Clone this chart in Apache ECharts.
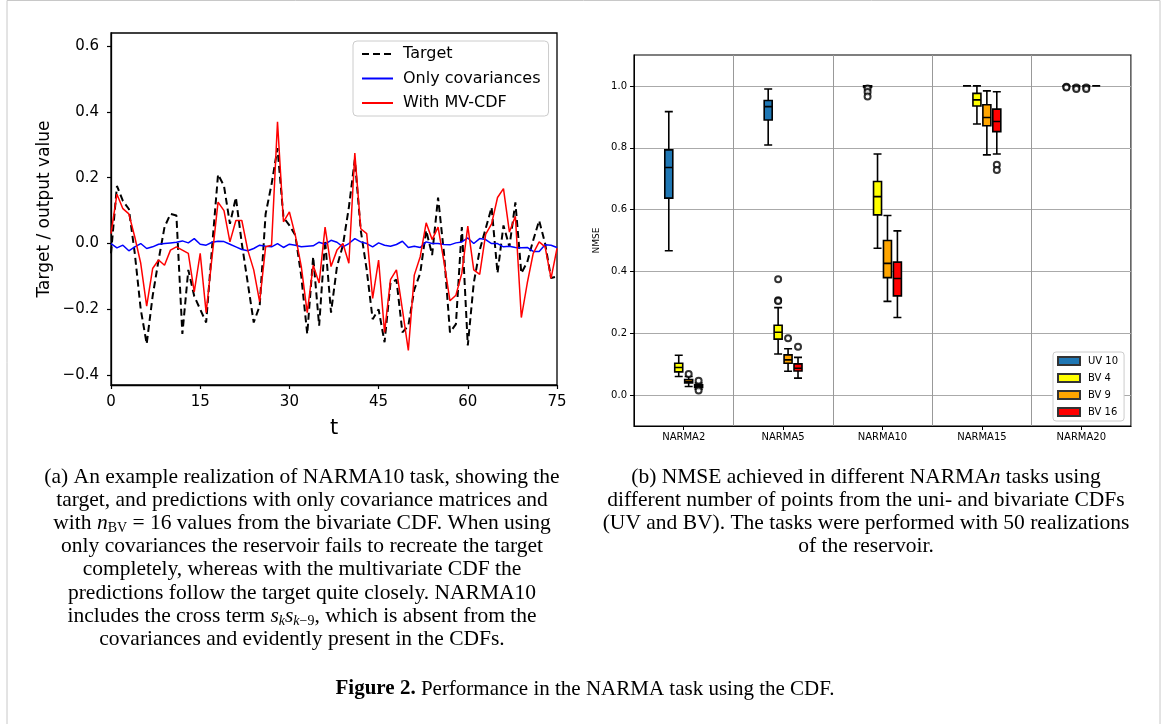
<!DOCTYPE html>
<html>
<head>
<meta charset="utf-8">
<script src="https://cdn.jsdelivr.net/npm/echarts@6/dist/echarts.min.js"></script>
<style>
html, body { margin: 0; background: #fff; }
#chartDom { width: 1170px; height: 724px; }
</style>
</head>
<body>
<div id="chartDom"></div>
<script>
// (a) one NARMA10 realization, t = 0..75
var target = [-0.03, 0.175, 0.13, 0.105, -0.03, -0.20, -0.305, -0.16, -0.05, 0.05,
  0.09, 0.085, -0.275, -0.08, -0.16, -0.20, -0.24, -0.01, 0.21, 0.175,
  0.06, 0.14, 0.0, -0.12, -0.24, -0.19, 0.09, 0.18, 0.29, 0.08,
  0.055, 0.025, -0.10, -0.275, -0.04, -0.25, 0.01, -0.21, -0.07, -0.005,
  0.11, 0.255, 0.04, -0.08, -0.23, -0.20, -0.30, -0.12, -0.11, -0.27,
  -0.25, -0.14, -0.09, 0.04, -0.035, 0.14, -0.03, -0.27, -0.245, 0.05,
  -0.31, -0.12, -0.02, 0.045, 0.11, -0.09, 0.055, -0.01, 0.125, -0.09,
  -0.056, 0.01, 0.07, 0.0, -0.105, -0.10];
var onlyCov = [0.0, -0.013, -0.005, -0.022, -0.01, 0.0, -0.015, -0.01, -0.002, 0.0,
  0.002, 0.004, 0.008, 0.002, 0.015, -0.002, -0.005, 0.004, 0.007, 0.006,
  -0.002, -0.01, -0.018, -0.022, -0.015, -0.005, -0.008, -0.01, 0.0, -0.012,
  -0.002, -0.005, -0.01, -0.008, -0.007, 0.004, -0.002, 0.01, 0.004, -0.01,
  0.0, 0.015, 0.005, 0.0, -0.01, 0.002, -0.005, -0.008, -0.003, 0.007,
  -0.012, -0.008, -0.012, 0.005, 0.0, 0.0, -0.003, -0.004, 0.002, 0.005,
  0.017, 0.0, 0.015, 0.012, 0.0, 0.0, -0.01, -0.008, -0.012, -0.013,
  -0.012, -0.024, -0.024, -0.004, -0.005, -0.012];
var withCdf = [0.03, 0.15, 0.106, 0.09, 0.02, -0.06, -0.19, -0.076, -0.05, -0.066,
  -0.02, -0.01, -0.02, -0.03, -0.147, -0.03, -0.21, -0.04, 0.126, 0.10,
  0.005, 0.07, 0.07, -0.02, -0.08, -0.177, -0.01, -0.005, 0.37, 0.066,
  0.096, 0.025, -0.07, -0.21, -0.066, -0.12, 0.05, -0.07, -0.02, 0.0,
  -0.06, 0.275, 0.045, 0.03, -0.167, -0.05, -0.27, -0.11, -0.08, -0.20,
  -0.325, -0.096, -0.04, 0.063, 0.012, 0.05, -0.056, -0.174, -0.157, -0.09,
  0.053, -0.08, -0.094, 0.028, 0.06, 0.14, 0.167, 0.035, 0.083, -0.225,
  -0.12, -0.03, 0.005, -0.01, -0.106, -0.015];
var leftTicks = [-0.4, -0.2, 0, 0.2, 0.4, 0.6];

// (b) NMSE boxes: [min, Q1, median, Q3, max] for each task
var tasks = ['NARMA2', 'NARMA5', 'NARMA10', 'NARMA15', 'NARMA20'];
var variants = ['UV 10', 'BV 4', 'BV 9', 'BV 16'];
var variantColors = ['#1f77b4', '#ffff00', '#ffa500', '#ff0000'];
var boxUV10 = [[0.467, 0.637, 0.736, 0.793, 0.917], [0.809, 0.89, 0.933, 0.953, 0.99],
  [0.995, 0.997, 0.999, 1.0, 1.0], [1.0, 1.0, 1.0, 1.0, 1.0], [1.0, 1.0, 1.0, 1.0, 1.0]];
var boxBV4 = [[0.06, 0.075, 0.089, 0.103, 0.129], [0.133, 0.181, 0.203, 0.226, 0.283],
  [0.475, 0.583, 0.642, 0.691, 0.78], [0.877, 0.935, 0.955, 0.976, 1.0], [1.0, 1.0, 1.0, 1.0, 1.0]];
var boxBV9 = [[0.028, 0.039, 0.043, 0.05, 0.06], [0.077, 0.103, 0.114, 0.13, 0.15],
  [0.303, 0.38, 0.426, 0.5, 0.581], [0.777, 0.871, 0.898, 0.939, 0.984], [1.0, 1.0, 1.0, 1.0, 1.0]];
var boxBV16 = [[0.019, 0.025, 0.028, 0.033, 0.039], [0.055, 0.078, 0.087, 0.101, 0.122],
  [0.251, 0.321, 0.377, 0.43, 0.531], [0.78, 0.852, 0.885, 0.925, 0.981], [1.0, 1.0, 1.0, 1.0, 1.0]];
var outUV10 = [[], [], [0.992, 0.98, 0.966], [], [0.997, 0.995]];
var outBV4 = [[], [0.375, 0.307, 0.304], [], [], [0.995, 0.99]];
var outBV9 = [[0.068], [0.184], [], [], [0.995, 0.99]];
var outBV16 = [[0.046, 0.015], [0.156], [], [0.745, 0.728], []];
var rightTicks = [0, 0.2, 0.4, 0.6, 0.8, 1.0];

var boxes = [boxUV10, boxBV4, boxBV9, boxBV16];
var outs = [outUV10, outBV4, outBV9, outBV16];
var offsets = [-0.15, -0.05, 0.05, 0.15];

var boxData = [], outData = [];
boxes.forEach(function (b, vi) {
  b.forEach(function (q, ti) {
    boxData.push({ value: [ti + offsets[vi]].concat(q), itemStyle: { color: variantColors[vi] } });
    outs[vi][ti].forEach(function (v) { outData.push([ti + offsets[vi], v]); });
  });
});

function pairs(arr) { return arr.map(function (v, i) { return [i, v]; }); }
function fmt(v) { return (v < 0 ? '\u2212' : '') + Math.abs(v).toFixed(1); }

var FONT = 'DejaVu Sans';
var SERIF = 'Liberation Serif';
var CAP = 21.5;

var capA = [
  '(a) An example realization of NARMA10 task, showing the',
  'target, and predictions with only covariance matrices and',
  'with {i|n}{sub|BV} = 16 values from the bivariate CDF. When using',
  'only covariances the reservoir fails to recreate the target',
  'completely, whereas with the multivariate CDF the',
  'predictions follow the target quite closely. NARMA10',
  'includes the cross term {i|s}{subi|k}{i|s}{subi|k}{sub|\u22129}, which is absent from the',
  'covariances and evidently present in the CDFs.'
];
var capB = [
  '(b) NMSE achieved in different NARMA{i|n} tasks using',
  'different number of points from the uni- and bivariate CDFs',
  '(UV and BV). The tasks were performed with 50 realizations',
  'of the reservoir.'
];
var richCap = {
  i: { fontFamily: SERIF, fontSize: CAP, fontStyle: 'italic', fill: '#000' },
  sub: { fontFamily: SERIF, fontSize: 14, padding: [10, 0, 0, 0], fill: '#000' },
  subi: { fontFamily: SERIF, fontSize: 14, fontStyle: 'italic', padding: [10, 0, 0, 0], fill: '#000' }
};
var graphics = [{
  type: 'rect', silent: true,
  shape: { x: 7, y: 0.5, width: 1153, height: 760 },
  style: { fill: 'none', stroke: '#c8c8c8', lineWidth: 1 }
}];
capA.forEach(function (s, k) {
  graphics.push({ type: 'text', silent: true, style: { text: s, x: 302, y: 477 + k * 23.2,
    align: 'center', verticalAlign: 'middle', fontFamily: SERIF, fontSize: CAP, fill: '#000', rich: richCap } });
});
capB.forEach(function (s, k) {
  graphics.push({ type: 'text', silent: true, style: { text: s, x: 866, y: 477 + k * 23.2,
    align: 'center', verticalAlign: 'middle', fontFamily: SERIF, fontSize: CAP, fill: '#000', rich: richCap } });
});
graphics.push({ type: 'text', silent: true, style: {
  text: '{b|Figure 2.} Performance in the NARMA task using the CDF.', x: 585, y: 689,
  align: 'center', verticalAlign: 'middle', fontFamily: SERIF, fontSize: 21, fill: '#000',
  rich: { b: { fontFamily: SERIF, fontSize: 21, fontWeight: 'bold', fill: '#000' } } } });

var chartDom = document.getElementById('chartDom');
var myChart = echarts.init(chartDom);
var option = {
  animation: false,
  backgroundColor: '#fff',
  grid: [
    { left: 111, top: 33, width: 446, height: 352, show: true, borderColor: '#000', borderWidth: 1.3 },
    { left: 634, top: 55, width: 497, height: 371, show: true, borderColor: '#000', borderWidth: 1.2 }
  ],
  legend: [
    {
      data: ['Target', 'Only covariances', 'With MV-CDF'],
      orient: 'vertical', left: 353, top: 41,
      itemWidth: 31, itemHeight: 14, itemGap: 8.5,
      itemStyle: { opacity: 0 },
      backgroundColor: '#fff', borderColor: '#ccc', borderWidth: 1, borderRadius: 4,
      padding: [5, 8, 5, 8],
      textStyle: { fontFamily: FONT, fontSize: 16, color: '#000', padding: [0, 0, 0, 5] }
    },
    {
      data: variants,
      orient: 'vertical', left: 1053, top: 352, icon: 'rect',
      itemWidth: 22, itemHeight: 8, itemGap: 7,
      backgroundColor: '#fff', borderColor: '#ccc', borderWidth: 1, borderRadius: 3,
      padding: [4, 6, 4, 4],
      textStyle: { fontFamily: FONT, fontSize: 10, color: '#000', padding: [0, 0, 0, 3] }
    }
  ],
  xAxis: [
    {
      gridIndex: 0, type: 'value', min: 0, max: 75, interval: 15,
      name: 't', nameLocation: 'middle', nameGap: 33,
      nameTextStyle: { fontFamily: FONT, fontSize: 21, color: '#000' },
      axisLine: { show: true, onZero: false, lineStyle: { color: '#000', width: 1.3 } },
      axisTick: { show: true, length: 4, lineStyle: { color: '#000', width: 1.2 } },
      axisLabel: { fontFamily: FONT, fontSize: 15, color: '#000', margin: 10 },
      splitLine: { show: false }
    },
    {
      gridIndex: 1, type: 'category', data: tasks, boundaryGap: true,
      axisLine: { show: true, onZero: false, lineStyle: { color: '#000' } },
      axisTick: { show: true, alignWithLabel: true, length: 4, lineStyle: { color: '#000' } },
      axisLabel: { fontFamily: FONT, fontSize: 10, color: '#000', margin: 6 },
      splitLine: { show: true, lineStyle: { color: '#999', width: 1 } }
    },
    { gridIndex: 1, type: 'value', min: -0.5, max: 4.5, show: false }
  ],
  yAxis: [
    {
      gridIndex: 0, type: 'value', min: -0.43, max: 0.64,
      name: 'Target / output value', nameLocation: 'middle', nameGap: 58,
      nameTextStyle: { fontFamily: FONT, fontSize: 17, color: '#000' },
      axisLine: { show: true, onZero: false, lineStyle: { color: '#000', width: 1.3 } },
      axisTick: { show: true, length: 4, customValues: leftTicks, lineStyle: { color: '#000', width: 1.2 } },
      axisLabel: { fontFamily: FONT, fontSize: 15, color: '#000', margin: 12, customValues: leftTicks, formatter: fmt },
      splitLine: { show: false }
    },
    {
      gridIndex: 1, type: 'value', min: -0.1, max: 1.1,
      name: 'NMSE', nameLocation: 'middle', nameGap: 33,
      nameTextStyle: { fontFamily: FONT, fontSize: 9, color: '#000' },
      axisLine: { show: true, onZero: false, lineStyle: { color: '#000' } },
      axisTick: { show: true, length: 4, customValues: rightTicks, lineStyle: { color: '#000' } },
      axisLabel: { fontFamily: FONT, fontSize: 10, color: '#000', margin: 7, customValues: rightTicks,
        formatter: function (v) { return v.toFixed(1); } },
      splitLine: { show: true, lineStyle: { color: '#aaa', width: 1 } }
    }
  ],
  series: [
    {
      name: 'Target', type: 'line', xAxisIndex: 0, yAxisIndex: 0, data: pairs(target),
      symbol: 'none', showSymbol: false, color: '#000',
      lineStyle: { color: '#000', width: 2, type: [7, 4] }, z: 2
    },
    {
      name: 'Only covariances', type: 'line', xAxisIndex: 0, yAxisIndex: 0, data: pairs(onlyCov),
      symbol: 'none', showSymbol: false, color: '#0000ff',
      lineStyle: { color: '#0000ff', width: 1.5 }, z: 3
    },
    {
      name: 'With MV-CDF', type: 'line', xAxisIndex: 0, yAxisIndex: 0, data: pairs(withCdf),
      symbol: 'none', showSymbol: false, color: '#ff0000',
      lineStyle: { color: '#ff0000', width: 1.5 }, z: 4
    },
    {
      type: 'boxplot', xAxisIndex: 2, yAxisIndex: 1, data: boxData, boxWidth: [8, 8],
      itemStyle: { borderColor: '#000', borderWidth: 1.6 }, z: 3
    },
    {
      type: 'scatter', xAxisIndex: 2, yAxisIndex: 1, data: outData,
      symbol: 'emptyCircle', symbolSize: 6, itemStyle: { color: '#000', borderWidth: 1 }, z: 4
    }
  ].concat(variants.map(function (v, vi) {
    return {
      name: v, type: 'bar', xAxisIndex: 2, yAxisIndex: 1, data: [],
      itemStyle: { color: variantColors[vi], borderColor: '#333', borderWidth: 1 }
    };
  })),
  graphic: graphics
};
myChart.setOption(option);
</script>
</body>
</html>
